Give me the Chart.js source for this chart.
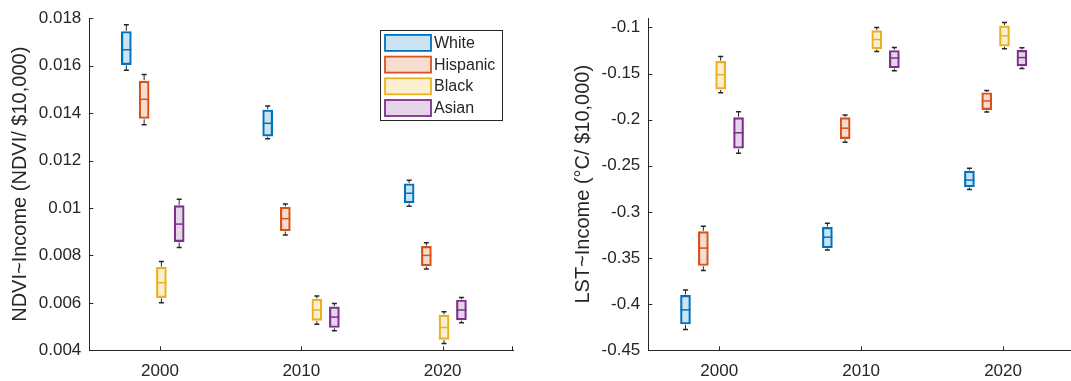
<!DOCTYPE html>
<html>
<head>
<meta charset="utf-8">
<script src="https://cdn.jsdelivr.net/npm/chart.js@4/dist/chart.umd.min.js"></script>
<style>
  html, body { margin: 0; padding: 0; background: #fff; overflow: hidden; width: 1071px; height: 381px; position: relative; }
  canvas { position: absolute; top: 0; }
  #ndvi { left: 0; }
  #lst { left: 540px; }
</style>
</head>
<body>
<canvas id="ndvi" width="540" height="381"></canvas>
<canvas id="lst" width="540" height="381"></canvas>
<script>
// Groups and their colours
const groups = ['White', 'Hispanic', 'Black', 'Asian'];
const groupColors = ['#0072BD', '#D95319', '#EDB120', '#7E2F8E'];
const groupFills = ['rgba(0,114,189,0.2)', 'rgba(217,83,25,0.2)', 'rgba(237,177,32,0.2)', 'rgba(126,47,142,0.2)'];

// Census years and the x position of each group's box around them
const years = [2000, 2010, 2020];
const posWhite    = [1997.62, 2007.62, 2017.63];
const posHispanic = [1998.88, 2008.87, 2018.85];
const posBlack    = [2000.10, 2011.10, 2020.10];
const posAsian    = [2001.36, 2012.34, 2021.33];

// Box statistics per year: [lower whisker, Q1, median, Q3, upper whisker]
const ndviWhite    = [[0.01581, 0.01604, 0.01667, 0.01744, 0.01772], [0.01292, 0.01303, 0.01357, 0.01413, 0.01430], [0.01007, 0.01022, 0.01062, 0.01102, 0.01117]];
const ndviHispanic = [[0.01351, 0.01377, 0.01458, 0.01535, 0.01563], [0.00886, 0.00904, 0.00955, 0.01003, 0.01017], [0.00743, 0.00756, 0.00800, 0.00838, 0.00853]];
const ndviBlack    = [[0.00600, 0.00622, 0.00685, 0.00750, 0.00774], [0.00510, 0.00526, 0.00570, 0.00616, 0.00629], [0.00429, 0.00446, 0.00496, 0.00548, 0.00562]];
const ndviAsian    = [[0.00833, 0.00858, 0.00932, 0.01010, 0.01037], [0.00482, 0.00496, 0.00540, 0.00583, 0.00597], [0.00516, 0.00528, 0.00570, 0.00612, 0.00623]];

const lstWhite    = [[-0.4275, -0.4215, -0.4062, -0.3904, -0.3847], [-0.3414, -0.3388, -0.3274, -0.3167, -0.3124], [-0.2756, -0.2727, -0.2655, -0.2558, -0.2526]];
const lstHispanic = [[-0.3635, -0.3581, -0.3392, -0.3213, -0.3156], [-0.2246, -0.2206, -0.2092, -0.1977, -0.1948], [-0.1916, -0.1891, -0.1797, -0.1708, -0.1683]];
const lstBlack    = [[-0.1708, -0.1669, -0.1512, -0.1368, -0.1314], [-0.1260, -0.1232, -0.1131, -0.1035, -0.1002], [-0.1231, -0.1202, -0.1091, -0.0983, -0.0946]];
const lstAsian    = [[-0.2364, -0.2310, -0.2142, -0.1977, -0.1913], [-0.1469, -0.1437, -0.1332, -0.1250, -0.1217], [-0.1446, -0.1417, -0.1327, -0.1248, -0.1220]];

// Axis ticks
const ndviTicks = [0.004, 0.006, 0.008, 0.010, 0.012, 0.014, 0.016, 0.018];
const ndviTickLabels = ['0.004', '0.006', '0.008', '0.01', '0.012', '0.014', '0.016', '0.018'];
const lstTicks = [-0.45, -0.40, -0.35, -0.30, -0.25, -0.20, -0.15, -0.10];
const lstTickLabels = ['-0.45', '-0.4', '-0.35', '-0.3', '-0.25', '-0.2', '-0.15', '-0.1'];

const AXIS = '#262626';
const FONT = '"Liberation Sans", Arial, Helvetica, sans-serif';

function makeDatasets(positions, stats) {
  return groups.map((g, gi) => ({
    label: g,
    data: positions[gi].map((px, i) => ({ x: px, y: [stats[gi][i][1], stats[gi][i][3]] })),
    stats: stats[gi],
    backgroundColor: groupFills[gi],
    borderColor: groupColors[gi],
    borderWidth: 1.5,
    borderSkipped: false,
    barThickness: 10,
    grouped: false
  }));
}

// Whiskers and median lines drawn over the floating-bar boxes
const boxParts = {
  id: 'boxParts',
  afterDatasetsDraw(chart) {
    const { ctx, scales: { x, y } } = chart;
    ctx.save();
    chart.data.datasets.forEach((ds, di) => {
      const meta = chart.getDatasetMeta(di);
      ds.data.forEach((d, i) => {
        const s = ds.stats[i];
        const bar = meta.data[i];
        const cx = x.getPixelForValue(d.x);
        const half = bar.width / 2;
        const pLo = y.getPixelForValue(s[0]);
        const pQ1 = y.getPixelForValue(s[1]);
        const pMed = y.getPixelForValue(s[2]);
        const pQ3 = y.getPixelForValue(s[3]);
        const pHi = y.getPixelForValue(s[4]);
        // whiskers
        ctx.strokeStyle = AXIS;
        ctx.lineWidth = 1;
        ctx.beginPath();
        ctx.moveTo(cx, pQ3 - 0.75); ctx.lineTo(cx, pHi);
        ctx.moveTo(cx, pQ1 + 0.75); ctx.lineTo(cx, pLo);
        ctx.stroke();
        ctx.lineWidth = 1.5;
        ctx.beginPath();
        ctx.moveTo(cx - 2.5, pHi); ctx.lineTo(cx + 2.5, pHi);
        ctx.moveTo(cx - 2.5, pLo); ctx.lineTo(cx + 2.5, pLo);
        ctx.stroke();
        // median
        ctx.strokeStyle = ds.borderColor;
        ctx.lineWidth = 1.5;
        ctx.beginPath();
        ctx.moveTo(cx - half, pMed); ctx.lineTo(cx + half, pMed);
        ctx.stroke();
      });
    });
    ctx.restore();
  }
};

// Inward tick marks on both axes
const inwardTicks = {
  id: 'inwardTicks',
  afterDraw(chart) {
    const { ctx, chartArea: a, scales: { x, y } } = chart;
    const len = 4;
    ctx.save();
    ctx.strokeStyle = AXIS;
    ctx.lineWidth = 1;
    ctx.beginPath();
    y.ticks.forEach(t => {
      const py = Math.round(y.getPixelForValue(t.value)) + 0.5;
      ctx.moveTo(a.left, py); ctx.lineTo(a.left + len, py);
    });
    x.ticks.forEach(t => {
      const px = Math.round(x.getPixelForValue(t.value)) + 0.5;
      ctx.moveTo(px, a.bottom); ctx.lineTo(px, a.bottom - len);
    });
    const rx = Math.round(a.right) - 0.5;
    ctx.moveTo(rx, a.bottom); ctx.lineTo(rx, a.bottom - len);
    ctx.stroke();
    ctx.restore();
  }
};

// Boxed legend in the upper right of the plot area
const boxLegend = {
  id: 'boxLegend',
  afterDraw(chart) {
    const { ctx, chartArea: a } = chart;
    const w = 121.5, rowH = 21.7;
    const left = a.right - 11.8, top = a.top + 12;
    const x0 = left - w;
    ctx.save();
    ctx.fillStyle = '#fff';
    ctx.fillRect(x0, top, w, 90.3);
    ctx.strokeStyle = AXIS;
    ctx.lineWidth = 1;
    ctx.strokeRect(Math.round(x0) + 0.5, Math.round(top) + 0.5, Math.round(w), 90);
    ctx.font = '16px ' + FONT;
    ctx.textBaseline = 'middle';
    groups.forEach((g, gi) => {
      const sy = top + 4.7 + gi * rowH;
      ctx.fillStyle = groupFills[gi];
      ctx.fillRect(x0 + 5, sy, 46, 16);
      ctx.strokeStyle = groupColors[gi];
      ctx.lineWidth = 1.8;
      ctx.strokeRect(x0 + 5, sy, 46, 16);
      ctx.fillStyle = AXIS;
      ctx.fillText(g, x0 + 54, sy + 8.5);
    });
    ctx.restore();
  }
};

function makeChart(id, opts) {
  return new Chart(document.getElementById(id), {
    type: 'bar',
    data: { datasets: makeDatasets(opts.positions, opts.stats) },
    plugins: opts.plugins,
    options: {
      responsive: false,
      animation: false,
      events: [],
      layout: { padding: { top: 16, right: opts.padRight, bottom: 0, left: 0 } },
      plugins: { legend: { display: false }, tooltip: { enabled: false } },
      scales: {
        x: {
          type: 'linear',
          offset: false,
          min: 1995, max: 2025,
          afterBuildTicks: s => { s.ticks = years.map(v => ({ value: v })); },
          afterFit: s => { s.height = 30.7; },
          grid: { display: false, drawTicks: false, offset: false },
          border: { display: true, color: AXIS, width: 1 },
          ticks: { padding: 11, color: AXIS, font: { size: 17, family: FONT }, callback: v => String(v), maxRotation: 0 }
        },
        y: {
          type: 'linear',
          min: opts.yMin, max: opts.yMax,
          afterBuildTicks: s => { s.ticks = opts.ticks.map(v => ({ value: v })); },
          afterFit: s => { s.width = opts.yWidth; },
          grid: { display: false, drawTicks: false },
          border: { display: true, color: AXIS, width: 1 },
          ticks: {
            padding: 8, color: AXIS, font: { size: 17, family: FONT },
            callback: (v) => { const k = opts.ticks.findIndex(t => Math.abs(t - v) < 1e-9); return k >= 0 ? opts.tickLabels[k] : ''; }
          },
          title: { display: true, text: opts.title, color: AXIS, font: { size: 20, family: FONT }, padding: { top: opts.titlePad, bottom: 0 } }
        }
      }
    }
  });
}

makeChart('ndvi', {
  positions: [posWhite, posHispanic, posBlack, posAsian],
  stats: [ndviWhite, ndviHispanic, ndviBlack, ndviAsian],
  yMin: 0.004, yMax: 0.018,
  ticks: ndviTicks, tickLabels: ndviTickLabels,
  title: 'NDVI~Income (NDVI/ $10,000)',
  yWidth: 89.3, padRight: 26.7, titlePad: 8,
  plugins: [boxParts, inwardTicks, boxLegend]
});

makeChart('lst', {
  positions: [posWhite, posHispanic, posBlack, posAsian],
  stats: [lstWhite, lstHispanic, lstBlack, lstAsian],
  yMin: -0.45, yMax: -0.09,
  ticks: lstTicks, tickLabels: lstTickLabels,
  title: 'LST~Income (°C/ $10,000)',
  yWidth: 108.3, padRight: 6, titlePad: 31.7,
  plugins: [boxParts, inwardTicks]
});
</script>
</body>
</html>
